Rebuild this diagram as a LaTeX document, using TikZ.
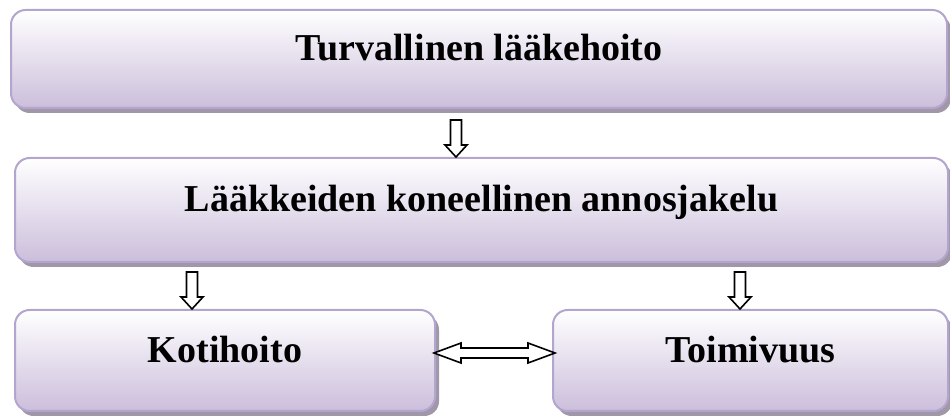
\documentclass[tikz,border=0pt]{standalone}
\usepackage{fontspec}
\setmainfont{Liberation Serif}
\usetikzlibrary{calc,shadows}
\definecolor{boxline}{HTML}{B4A5CE}
\definecolor{boxfill}{HTML}{CBBEDB}
\definecolor{boxshadow}{HTML}{A098A8}
\begin{document}
\begin{tikzpicture}[x=0.75pt, y=-0.75pt,
                box/.style={
                    draw=boxline,
                    line width=1.5pt,
                    rectangle,
                    rounded corners=11pt,
                    top color=white,
                    bottom color=boxfill,
                    general shadow={fill=boxshadow, shadow xshift=3pt, shadow yshift=-3.75pt},
                    text height=19pt,
                    text depth=16pt,
                    align=center,
                    font=\bfseries\fontsize{28.5}{34}\selectfont
                },
                downarrow/.style={
                    draw=black,
                    fill=white,
                    line width=1.2pt,
                    to path={
                        ($(\tikztostart)+(-5.5,0)$) -- ($(\tikztotarget)+(-5.5,-12)$)
                        -- ($(\tikztotarget)+(-11,-12)$) -- (\tikztotarget)
                        -- ($(\tikztotarget)+(11,-12)$) -- ($(\tikztotarget)+(5.5,-12)$)
                        -- ($(\tikztostart)+(5.5,0)$) -- cycle
                    }
                },
                bothways/.style={
                    draw=black,
                    fill=white,
                    line width=1.2pt,
                    to path={
                        (\tikztostart) -- +(27,-10) -- +(27,-5)
                        -- ($(\tikztotarget)+(-27,-5)$) -- ($(\tikztotarget)+(-27,-10)$)
                        -- (\tikztotarget)
                        -- ($(\tikztotarget)+(-27,10)$) -- ($(\tikztotarget)+(-27,5)$)
                        -- ($(\tikztostart)+(27,5)$) -- ($(\tikztostart)+(27,10)$) -- cycle
                    }
                }
            ]
    \useasboundingbox (0,0) rectangle (950,416);

    \node[box, minimum width=702pt, minimum height=73.5pt] (hoito) at (479,59) {Turvallinen lääkehoito};
    \node[box, minimum width=699.75pt, minimum height=78pt] (annos) at (481.5,210) {Lääkkeiden koneellinen annosjakelu};
    \node[box, minimum width=315pt, minimum height=75.75pt] (koti) at (225,360.5) {Kotihoito};
    \node[box, minimum width=296.25pt, minimum height=75.75pt] (toimi) at (750.5,360.5) {Toimivuus};

    \coordinate (a1) at (456,120);
    \coordinate (a2) at (192,272);
    \coordinate (a3) at (740,272);
    \coordinate (d1) at ($(koti.east)+(-2,-7.5)$);
    \coordinate (d2) at ($(toimi.west)+(3,-7.5)$);

    \draw[downarrow] (a1) to (a1 |- annos.north);
    \draw[downarrow] (a2) to (a2 |- koti.north);
    \draw[downarrow] (a3) to (a3 |- toimi.north);
    \draw[bothways] (d1) to (d2);
\end{tikzpicture}
\end{document}
